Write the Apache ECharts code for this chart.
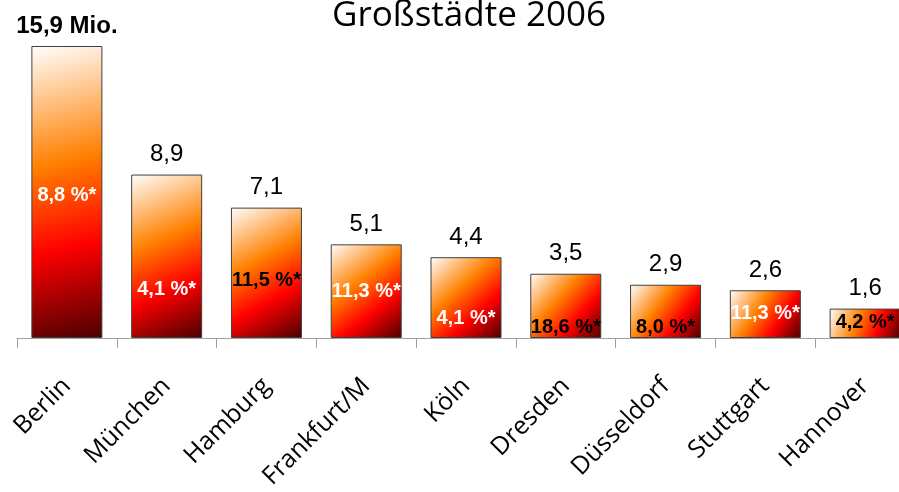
<!DOCTYPE html>
<html>
<head>
<meta charset="utf-8">
<script src="https://cdn.jsdelivr.net/npm/echarts@6/dist/echarts.min.js"></script>
<style>html,body{margin:0;padding:0;background:#fff;}#c{width:899px;height:492px;}</style>
</head>
<body>
<div id="c"></div>
<script>
const titleText = 'Großstädte 2006';
const categories = ['Berlin', 'München', 'Hamburg', 'Frankfurt/M', 'Köln', 'Dresden', 'Düsseldorf', 'Stuttgart', 'Hannover'];
const populations = [15.9, 8.9, 7.1, 5.1, 4.4, 3.5, 2.9, 2.6, 1.6];
const topLabels = ['15,9 Mio.', '8,9', '7,1', '5,1', '4,4', '3,5', '2,9', '2,6', '1,6'];
const shareLabels = ['8,8 %*', '4,1 %*', '11,5 %*', '11,3 %*', '4,1 %*', '18,6 %*', '8,0 %*', '11,3 %*', '4,2 %*'];

// styles (not data)
const shareColors = ['#fff', '#fff', '#000', '#fff', '#fff', '#000', '#000', '#fff', '#000'];
const shareLift = [143, 49, 58, 47, 20, 11, 11, 25, 16];

const grad = {
  type: 'linear', x: 0, y: 0, x2: 1, y2: 1,
  colorStops: [
    { offset: 0, color: '#ffffff' },
    { offset: 0.4, color: '#ff8000' },
    { offset: 0.68, color: '#ff0000' },
    { offset: 1, color: '#4a0000' }
  ]
};

const chart = echarts.init(document.getElementById('c'), null, { renderer: 'canvas' });
chart.setOption({
  animation: false,
  title: {
    text: titleText,
    left: 464, top: -6, textAlign: 'center',
    textStyle: { fontFamily: 'Open Sans', fontWeight: 'normal', fontSize: 35, color: '#000' }
  },
  grid: { left: 17, top: 46, width: 898, height: 292, containLabel: false, outerBoundsMode: 'none' },
  xAxis: {
    type: 'category',
    data: categories,
    axisLine: { lineStyle: { color: '#a0a0a0', width: 1 } },
    axisTick: { show: true, length: 10, lineStyle: { color: '#a0a0a0' } },
    axisLabel: { rotate: 45, margin: 44, fontFamily: 'Open Sans', fontSize: 25, color: '#000', interval: 0 }
  },
  yAxis: { type: 'value', min: 0, max: 15.9, show: false, splitLine: { show: false } },
  series: [
    {
      type: 'bar',
      barWidth: 71,
      data: populations.map((v, i) => ({
        value: v,
        label: {
          show: true,
          position: 'top',
          distance: 8,
          formatter: topLabels[i],
          fontFamily: 'Liberation Sans',
          fontSize: 24,
          fontWeight: i === 0 ? 'bold' : 'normal',
          color: '#000'
        }
      })),
      itemStyle: { color: grad, borderColor: '#404040', borderWidth: 1 },
      z: 2
    },
    {
      type: 'bar',
      barWidth: 71,
      barGap: '-100%',
      silent: true,
      data: populations.map((v, i) => ({
        value: v,
        label: {
          show: true,
          position: ['50%', '100%'],
          offset: [0, -shareLift[i]],
          align: 'center',
          verticalAlign: 'middle',
          formatter: shareLabels[i],
          fontFamily: 'Liberation Sans',
          fontSize: 20,
          fontWeight: 'bold',
          color: shareColors[i]
        }
      })),
      itemStyle: { color: 'rgba(0,0,0,0)' },
      z: 3
    }
  ]
});
</script>
</body>
</html>
